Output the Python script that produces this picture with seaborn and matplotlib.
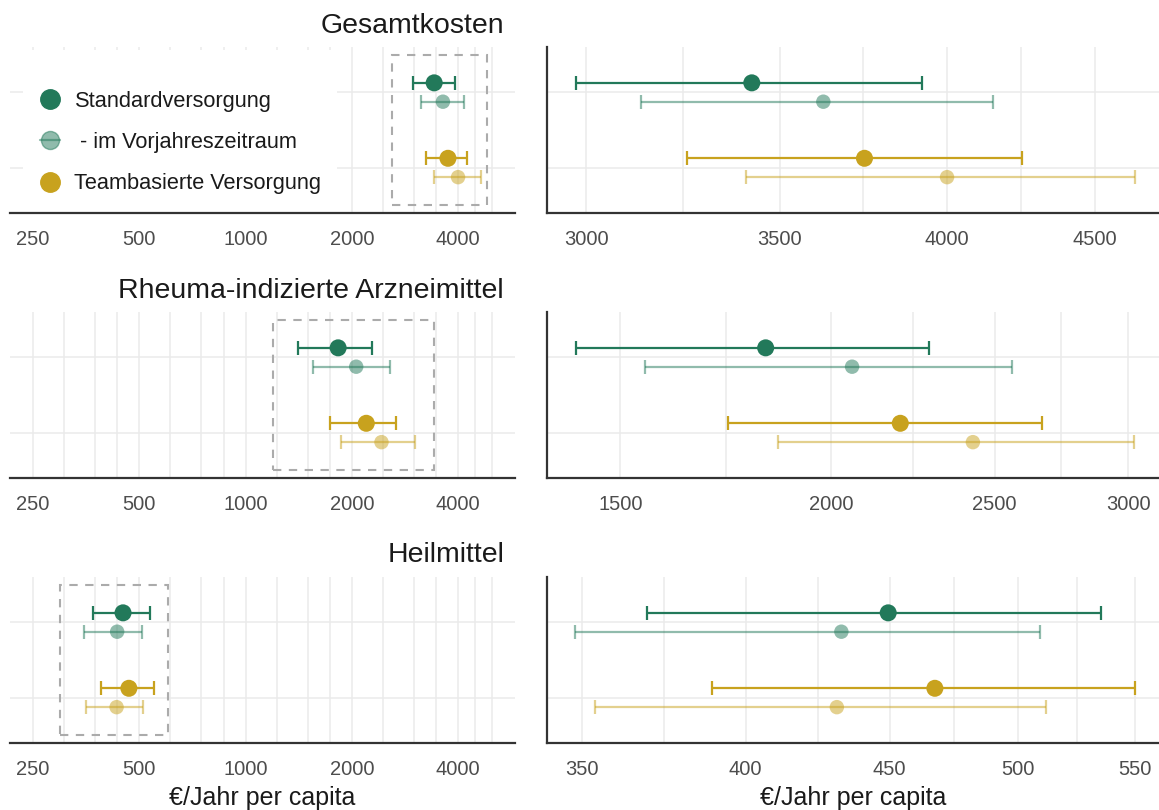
import numpy as np
import pandas as pd
import matplotlib
matplotlib.use("Agg")
import matplotlib.pyplot as plt
from matplotlib.lines import Line2D
from matplotlib.patches import Rectangle
import seaborn as sns

# ---- data ----
panel_titles = ["Gesamtkosten", "Rheuma-indizierte Arzneimittel", "Heilmittel"]
groups = ["Standardversorgung", "Standardversorgung",
          "Teambasierte Versorgung", "Teambasierte Versorgung"]
periods = ["aktuell", "Vorjahr", "aktuell", "Vorjahr"]

gesamt_mean = [3423, 3624, 3745, 4000]
gesamt_lo = [2974, 3133, 3250, 3408]
gesamt_hi = [3921, 4149, 4245, 4647]

rheuma_mean = [1829, 2058, 2198, 2427]
rheuma_lo = [1411, 1551, 1737, 1860]
rheuma_hi = [2287, 2561, 2667, 3024]

heil_mean = [449.5, 432.6, 467, 431]
heil_lo = [369, 348, 389, 353.6]
heil_hi = [535, 509, 550, 511.6]

# left (overview) axis
overview_lim = [215, 5800]
overview_breaks = [250, 375, 500, 750, 1000, 1500, 2000, 3000, 4000, 5000]
overview_labels = ["250", "", "500", "", "1000", "", "2000", "", "4000", ""]

# right (zoomed) axes
zoom_lims = [[2907, 4737], [1357, 3129], [340, 561]]
zoom_breaks = [[3000, 3500, 4000, 4500],
               [1500, 2000, 2500, 3000],
               [350, 400, 450, 500, 550]]
# dashed box marking the zoom range in the overview
zoom_boxes = [[2596, 4835], [1194, 3408], [298, 603]]

legend_labels = ["Standardversorgung", " - im Vorjahreszeitraum", "Teambasierte Versorgung"]

palette = {"Standardversorgung": "#22795a", "Teambasierte Versorgung": "#c8a21e"}
group_pos = {"Teambasierte Versorgung": 1, "Standardversorgung": 2}

sns.set_style("white")
plt.rcParams["font.family"] = ["Liberation Sans", "DejaVu Sans"]

W, H = 1159, 810
fig = plt.figure(figsize=(W / 100, H / 100), dpi=100)

grid_col = "#ebebeb"
axis_col = "#333333"
tick_col = "#4d4d4d"


def make_df(mean, lo, hi):
    df = pd.DataFrame({"group": groups, "period": periods,
                       "mean": mean, "lo": lo, "hi": hi})
    offs = np.where(df["period"] == "aktuell", 0.125, -0.125)
    df["y"] = df["group"].map(group_pos) + offs
    return df


def draw_points(ax, df):
    for period, alpha, size in [("Vorjahr", 0.5, 108), ("aktuell", 1.0, 150)]:
        sub = df[df["period"] == period]
        for grp, col in palette.items():
            s = sub[sub["group"] == grp]
            ax.errorbar(s["mean"], s["y"],
                        xerr=[s["mean"] - s["lo"], s["hi"] - s["mean"]],
                        fmt="none", ecolor=col, alpha=alpha, elinewidth=1.6,
                        capsize=5, capthick=1.6, zorder=2)
        sns.scatterplot(data=sub, x="mean", y="y", hue="group", palette=palette,
                        s=size, alpha=alpha, linewidth=0, legend=False, ax=ax, zorder=3)


def style_axis(ax, lim, breaks, labels, show_left):
    ax.set_xscale("log")
    ax.set_xlim(lim)
    ax.set_ylim(0.4, 2.6)
    b = np.array(breaks, dtype=float)
    minor = np.sqrt(b[:-1] * b[1:])
    ax.set_xticks(breaks, labels=labels)
    ax.set_xticks(minor, labels=[""] * len(minor), minor=True)
    ax.set_yticks([1, 2], labels=["", ""])
    ax.set_axisbelow(True)
    ax.grid(True, which="both", axis="x", color=grid_col, lw=1.1)
    ax.grid(True, which="major", axis="y", color=grid_col, lw=1.1)
    ax.tick_params(axis="x", which="major", length=4, width=1.4, color=axis_col,
                   labelsize=14.5, labelcolor=tick_col, pad=8)
    ax.tick_params(axis="x", which="minor", length=0)
    ax.tick_params(axis="y", length=0)
    for side in ["top", "right"]:
        ax.spines[side].set_visible(False)
    ax.spines["bottom"].set_color(axis_col)
    ax.spines["bottom"].set_linewidth(1.6)
    ax.spines["left"].set_visible(show_left)
    ax.spines["left"].set_color(axis_col)
    ax.spines["left"].set_linewidth(1.6)
    ax.set_xlabel("")
    ax.set_ylabel("")


all_data = [(gesamt_mean, gesamt_lo, gesamt_hi),
            (rheuma_mean, rheuma_lo, rheuma_hi),
            (heil_mean, heil_lo, heil_hi)]

row_bottoms = [213, 478, 743]
panel_h = 166
title_y = [26, 291, 555]

for i, (mean, lo, hi) in enumerate(all_data):
    df = make_df(mean, lo, hi)
    bottom = 1 - row_bottoms[i] / H
    ax_l = fig.add_axes([10 / W, bottom, 505 / W, panel_h / H])
    ax_r = fig.add_axes([547 / W, bottom, 612 / W, panel_h / H])

    ax_l.set_xscale("log")
    ax_r.set_xscale("log")
    draw_points(ax_l, df)
    draw_points(ax_r, df)
    style_axis(ax_l, overview_lim, overview_breaks, overview_labels, False)
    style_axis(ax_r, zoom_lims[i], zoom_breaks[i], [str(v) for v in zoom_breaks[i]], True)

    x0, x1 = zoom_boxes[i]
    ax_l.add_patch(Rectangle((x0, 0.5), x1 - x0, 2.0, fill=False,
                             edgecolor="#ababab", lw=1.5, ls=(0, (4, 3.6)), zorder=1.5))

    fig.text(504 / W, 1 - title_y[i] / H, panel_titles[i], ha="right", va="center",
             fontsize=20.5, color="#1a1a1a")

    if i == 0:
        # white legend background hides the grid like in the original
        ax_l.add_patch(Rectangle((13 / 505, 0.0), 314 / 505, 0.98, transform=ax_l.transAxes,
                                 facecolor="white", edgecolor="none", zorder=1))
        green, gold = palette["Standardversorgung"], palette["Teambasierte Versorgung"]
        handles = [
            Line2D([], [], marker="o", color=green, ls="none", markersize=14),
            Line2D([], [], marker="o", color=green, alpha=0.5, ls="-", lw=1.6, markersize=13),
            Line2D([], [], marker="o", color=gold, ls="none", markersize=14),
        ]
        leg = ax_l.legend(handles, legend_labels, loc="center left",
                          bbox_to_anchor=(0.0586, 0.425), frameon=False, fontsize=15.7,
                          handlelength=0.95, handletextpad=0.65, labelspacing=0.93,
                          borderpad=0, borderaxespad=0)
        for t in leg.get_texts():
            t.set_color("#1a1a1a")

    if i == 2:
        ax_l.set_xlabel("€/Jahr per capita", fontsize=18, color="#1a1a1a", labelpad=5)
        ax_r.set_xlabel("€/Jahr per capita", fontsize=18, color="#1a1a1a", labelpad=5)

fig.savefig("out.png", dpi=100)
